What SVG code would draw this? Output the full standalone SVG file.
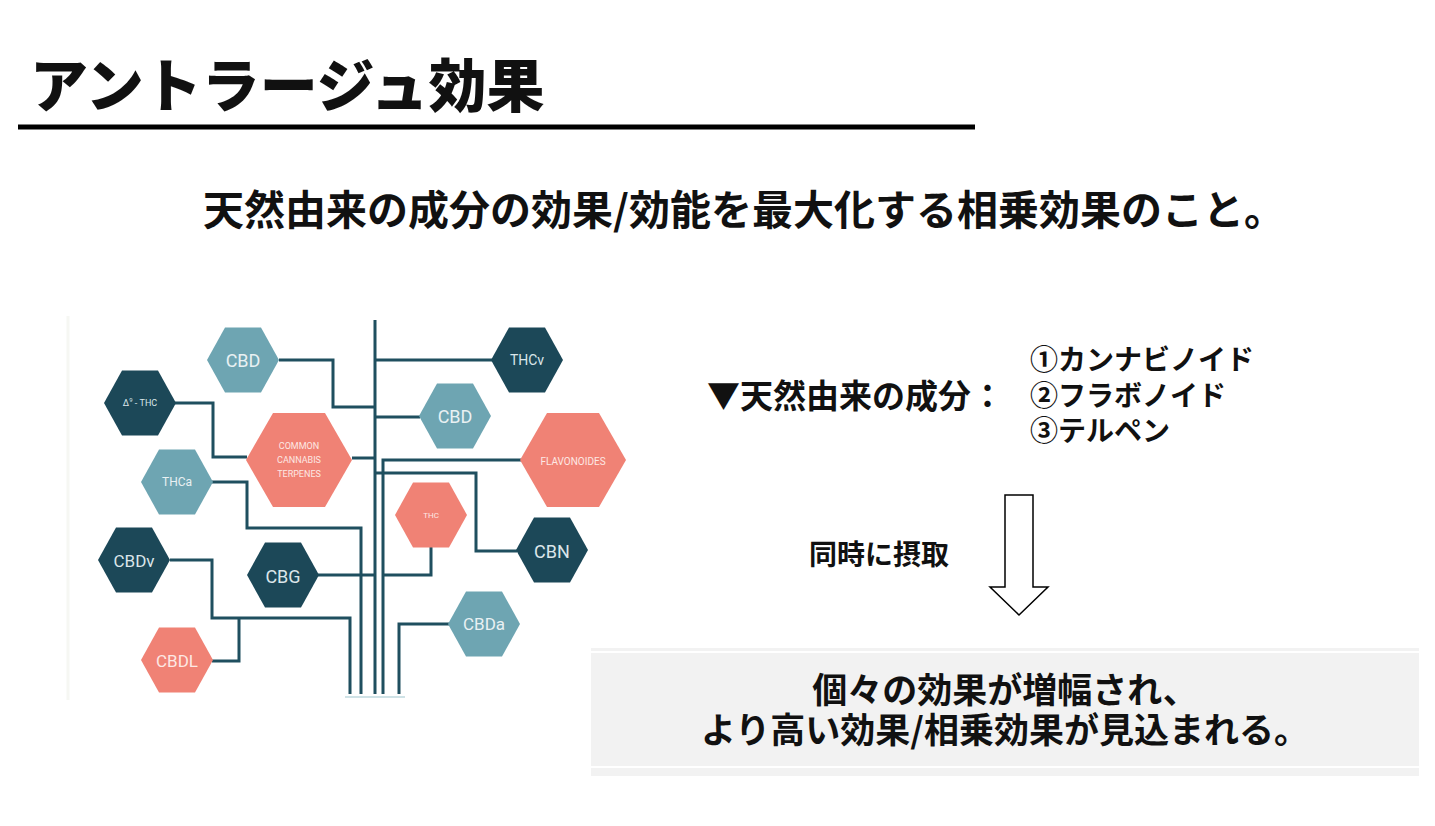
<svg xmlns="http://www.w3.org/2000/svg" width="1435" height="826" viewBox="0 0 1435 826">
<style>
.jp{font-family:"Noto Sans CJK JP","Noto Sans CJK SC",sans-serif;fill:#111;}
.hl{font-family:Roboto,"Liberation Sans",sans-serif;text-anchor:middle;dominant-baseline:central;}
.light{fill:#6ea5b2;}
.dark{fill:#1c4858;}
.salmon{fill:#f08275;}
.conn{fill:none;stroke:#1f4f5f;stroke-width:3;}
</style>
<defs>
<path id="hexS" d="M-36,0 L-18,-32.5 L18,-32.5 L36,0 L18,32.5 L-18,32.5 Z"/>
<path id="hexL" d="M-53,0 L-26,-47 L26,-47 L53,0 L26,47 L-26,47 Z"/>
</defs>
<rect width="1435" height="826" fill="#ffffff"/>

<g id="title">
<text class="jp" x="30" y="107" font-size="58" font-weight="900">アントラージュ効果</text>
<rect x="18" y="124.5" width="957" height="5" fill="#000"/>
</g>

<g id="subtitle">
<text class="jp" x="744" y="225" font-size="41" font-weight="700" text-anchor="middle">天然由来の成分の効果/効能を最大化する相乗効果のこと。</text>
</g>

<g id="tree-bg">
<line x1="68" y1="316" x2="68" y2="700" stroke="#f6f7f3" stroke-width="3"/>
<line x1="345" y1="697" x2="405" y2="697" stroke="#cfe2e6" stroke-width="2"/>
</g>

<g id="connectors">
<path class="conn" d="M375,320 V694"/>
<path class="conn" d="M279,360 H333 V407 H375"/>
<path class="conn" d="M375,360 H493"/>
<path class="conn" d="M375,417 H420"/>
<path class="conn" d="M175,403 H213 V457 H247"/>
<path class="conn" d="M352,458 H375"/>
<path class="conn" d="M523,460 H383 V694"/>
<path class="conn" d="M375,473 H476 V551 H517"/>
<path class="conn" d="M431,547 V575 H383"/>
<path class="conn" d="M318,575 H375"/>
<path class="conn" d="M212,482 H247 V528 H361 V694"/>
<path class="conn" d="M170,560 H212 V618 H350 V694"/>
<path class="conn" d="M212,661 H239 V618"/>
<path class="conn" d="M449,624 H399 V694"/>
</g>

<g id="node-cbd1"><use href="#hexS" x="243" y="360" class="light"/><text class="hl" x="243" y="360" font-size="18" fill="#e9f1f3">CBD</text></g>
<g id="node-d9thc"><use href="#hexS" x="140" y="403" class="dark"/><text class="hl" x="140" y="403" font-size="9" fill="#dbe6ea">Δ<tspan font-size="6" dy="-4">9</tspan><tspan dy="4"> - THC</tspan></text></g>
<g id="node-terpenes"><use href="#hexL" x="299" y="460" class="salmon"/><text class="hl" font-size="9" fill="#fde8e4"><tspan x="299" y="446">COMMON</tspan><tspan x="299" y="460">CANNABIS</tspan><tspan x="299" y="474">TERPENES</tspan></text></g>
<g id="node-thca"><use href="#hexS" x="177" y="482" class="light"/><text class="hl" x="177" y="482" font-size="12" fill="#e9f1f3">THCa</text></g>
<g id="node-thcv"><use href="#hexS" x="527" y="360" class="dark"/><text class="hl" x="527" y="360" font-size="14" fill="#dbe6ea">THCv</text></g>
<g id="node-cbd2"><use href="#hexS" x="455" y="416" class="light"/><text class="hl" x="455" y="416" font-size="18" fill="#e9f1f3">CBD</text></g>
<g id="node-flavonoides"><use href="#hexL" x="573" y="460" class="salmon"/><text class="hl" x="573" y="461" font-size="10" fill="#fde8e4">FLAVONOIDES</text></g>
<g id="node-thc"><use href="#hexS" x="431" y="515" class="salmon"/><text class="hl" x="431" y="515" font-size="8" fill="#fde8e4">THC</text></g>
<g id="node-cbn"><use href="#hexS" x="552" y="550" class="dark"/><text class="hl" x="552" y="551" font-size="18" fill="#dbe6ea">CBN</text></g>
<g id="node-cbdv"><use href="#hexS" x="134" y="560" class="dark"/><text class="hl" x="134" y="561" font-size="17" fill="#dbe6ea">CBDv</text></g>
<g id="node-cbg"><use href="#hexS" x="283" y="575" class="dark"/><text class="hl" x="283" y="576" font-size="18" fill="#dbe6ea">CBG</text></g>
<g id="node-cbdl"><use href="#hexS" x="177" y="660" class="salmon"/><text class="hl" x="177" y="661" font-size="17" fill="#fde8e4">CBDL</text></g>
<g id="node-cbda"><use href="#hexS" x="484" y="624" class="light"/><text class="hl" x="484" y="624" font-size="17" fill="#e9f1f3">CBDa</text></g>

<g id="ingredients">
<text class="jp" x="707" y="408" font-size="33" font-weight="700">▼天然由来の成分：</text>
<text class="jp" x="1030" y="370" font-size="28" font-weight="700">①カンナビノイド</text>
<text class="jp" x="1030" y="406" font-size="28" font-weight="700">②フラボノイド</text>
<text class="jp" x="1030" y="441" font-size="28" font-weight="700">③テルペン</text>
</g>

<g id="arrow">
<path d="M1005,495 H1033 V587 H1048 L1019,615 L990,587 H1005 Z" fill="#fff" stroke="#000" stroke-width="1.5" stroke-linejoin="miter"/>
<text class="jp" x="879" y="565" font-size="28" font-weight="700" text-anchor="middle">同時に摂取</text>
</g>

<g id="result">
<rect x="591" y="648" width="828" height="128" fill="#f2f2f2"/>
<rect x="591" y="651" width="828" height="2" fill="#ffffff"/>
<rect x="591" y="766" width="828" height="2" fill="#ffffff"/>
<text class="jp" font-size="35" font-weight="700" text-anchor="middle" fill="#1a1a1a"><tspan x="1005" y="703">個々の効果が増幅され、</tspan><tspan x="1005" y="743">より高い効果/相乗効果が見込まれる。</tspan></text>
</g>
</svg>
